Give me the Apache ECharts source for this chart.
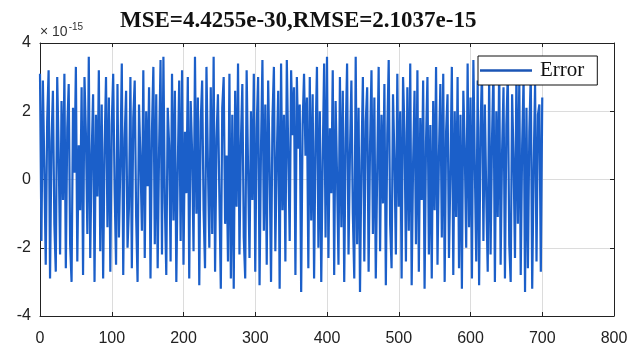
<!DOCTYPE html>
<html>
<head>
<meta charset="utf-8">
<script src="https://cdn.jsdelivr.net/npm/echarts@6/dist/echarts.min.js"></script>
<style>html,body{margin:0;padding:0;background:#fff;}#c{width:643px;height:352px;}</style>
</head>
<body>
<div id="c"></div>
<script>
// Sample positions: one value every 2 samples, starting at sample 0
const xStart = 0;
const xStep = 2;
// Error values (units of 1e-15)
const errorValues = [
  3.1, -1.8, 2.9, 0.4, -2.5, 1.7, 3.2, -2.9, 1.1, 2.6,
  -1.3, -2.7, 3.0, 0.8, -2.2, 2.3, -0.6, 3.1, -2.6, 1.5,
  2.8, -1.9, -3.0, 2.1, 0.2, 3.3, -2.4, 1.0, -0.9, 2.7,
  -2.8, 3.0, 1.3, -1.6, 3.6, -2.3, 0.7, 2.5, -3.0, 1.9,
  -0.5, 3.2, -2.1, 2.2, -2.9, 0.9, 3.0, -1.4, 2.4, -2.7,
  1.6, 3.1, -0.3, -2.5, 2.8, -1.7, 0.5, 3.4, -2.8, 1.2,
  2.6, -2.0, -0.8, 3.0, -2.6, 1.8, 2.9, -1.1, -3.0, 2.2,
  0.6, -1.5, 3.2, -2.3, 2.0, -0.2, 2.7, -2.9, 1.4, 3.3,
  -1.9, 2.5, -2.6, 0.9, 3.5, -2.2, 3.6, -0.7, -2.8, 2.1,
  1.0, -2.4, 3.1, -1.2, 2.6, -3.0, 0.3, 2.9, -1.8, 3.2,
  -2.5, 1.4, -0.4, 3.0, -2.9, 2.3, 0.8, -2.1, 3.6, -1.0,
  2.4, -3.1, 1.7, 2.9, -0.9, -2.6, 3.3, 0.5, -2.0, 2.7,
  -1.6, 3.6, -2.7, 1.2, 2.5, -0.5, -3.2, 2.1, 3.0, -1.3,
  0.7, -2.4, 3.1, -2.9, 1.9, -3.2, 2.6, -0.8, 3.4, -2.2,
  1.1, 2.8, -1.7, -2.9, 3.2, 0.3, -2.3, 2.0, -0.6, 3.1,
  -2.7, 1.5, 3.0, -3.1, 0.9, 3.5, -1.5, 2.2, -2.5, 2.9,
  0.4, -3.0, 1.8, 3.3, -2.1, 0.6, 2.6, -3.2, 3.4, -0.9,
  1.9, -2.4, 3.5, 0.8, -1.8, 3.2, 1.3, 2.7, -2.8, 3.0,
  0.9, 2.2, -3.3, 1.6, 3.1, 0.7, 2.4, -2.6, 3.0, -1.2,
  2.5, -2.9, 1.1, 3.3, -2.0, 2.0, -3.0, 0.6, 3.4, -1.7,
  3.6, -2.3, 1.5, -0.4, 3.2, -2.8, 2.3, 0.1, -2.5, 3.0,
  -1.4, 2.6, -3.0, 1.2, 3.4, -2.2, 0.8, 2.9, -1.0, -2.9,
  3.6, -1.9, 2.1, -3.3, 0.5, 3.0, -2.4, 1.7, 2.7, -2.7,
  1.0, 3.2, -1.6, 2.4, -2.9, 0.3, 3.3, -2.1, 1.9, -0.7,
  2.8, -3.1, 1.3, 3.5, -1.3, -2.6, 2.5, 0.6, -2.2, 3.1,
  -0.8, 2.0, -2.9, 3.0, 1.4, -2.4, 2.7, -1.5, 3.4, -3.1,
  0.5, 2.6, -1.9, 3.2, -2.7, 1.8, -0.6, 2.9, -3.2, 1.1,
  3.0, -2.2, 1.6, -2.9, 2.3, -0.9, 3.3, -2.5, 0.7, 2.8,
  -1.7, 3.1, -3.0, 1.4, 2.5, -2.3, 0.2, 3.3, -2.8, 2.0,
  -1.1, 3.0, -2.6, 1.9, -3.2, 2.6, 0.9, -2.0, 3.4, -1.4,
  2.4, -2.9, 3.5, 0.4, -2.4, 2.9, -3.1, 1.5, 3.2, -1.8,
  2.2, -0.5, -2.7, 3.0, -2.2, 1.2, 3.3, -3.0, 2.0, -1.1,
  3.4, -2.5, 0.8, 2.7, -2.9, 1.6, 3.1, -1.9, -3.0, 2.5,
  0.6, -2.3, 3.2, -1.3, 2.9, -2.8, 1.0, 3.0, -3.3, 2.1,
  -2.6, 1.4, 3.1, -3.2, 0.3, 2.8, -2.4, 1.9, 2.2, -2.7,
  2.4
];
const xTicks = [0, 100, 200, 300, 400, 500, 600, 700, 800];
const yTicks = [-4, -2, 0, 2, 4];
const titleText = 'MSE=4.4255e-30,RMSE=2.1037e-15';
const legendName = 'Error';

const seriesData = errorValues.map((v, i) => [xStart + i * xStep, v]);

const chart = echarts.init(document.getElementById('c'), null, {renderer: 'canvas'});
const labelFont = {fontFamily: 'Liberation Sans, Arial, sans-serif', fontSize: 16, color: '#222'};
chart.setOption({
  animation: false,
  backgroundColor: '#fff',
  grid: {left: 40, right: 29, top: 43, bottom: 36, containLabel: false},
  title: {
    text: titleText, left: 115, top: 5,
    textStyle: {fontFamily: 'Liberation Serif, Times New Roman, serif', fontWeight: 'bold', fontSize: 23, color: '#111'}
  },
  legend: {
    data: [legendName], left: 478, top: 56, orient: 'horizontal',
    icon: 'rect', itemWidth: 52, itemHeight: 2.5, itemGap: 4,
    padding: [4, 13, 4, 2],
    backgroundColor: '#fff', borderColor: '#111', borderWidth: 1, borderRadius: 0,
    textStyle: {fontFamily: 'Liberation Serif, Times New Roman, serif', fontSize: 21, color: '#111', lineHeight: 20, padding: [0, 0, 0, 3]},
    itemStyle: {color: '#1a55b5'}
  },
  xAxis: [{
    type: 'value', min: 0, max: 800, interval: 100,
    axisLine: {show: true, onZero: false, lineStyle: {color: '#222', width: 1}},
    axisTick: {show: true, inside: true, length: 4, lineStyle: {color: '#222'}},
    axisLabel: Object.assign({margin: 15, formatter: v => xTicks.includes(v) ? String(v) : ''}, labelFont),
    splitLine: {show: true, lineStyle: {color: '#dcdcdc', width: 1}}
  }, {
    type: 'value', position: 'top', min: 0, max: 800, interval: 100,
    axisLine: {show: true, onZero: false, lineStyle: {color: '#222', width: 1}},
    axisTick: {show: true, inside: true, length: 4, lineStyle: {color: '#222'}},
    axisLabel: {show: false}, splitLine: {show: false}
  }],
  yAxis: [{
    type: 'value', min: -4, max: 4, interval: 2,
    axisLine: {show: true, onZero: false, lineStyle: {color: '#222', width: 1}},
    axisTick: {show: true, inside: true, length: 4, lineStyle: {color: '#222'}},
    axisLabel: Object.assign({margin: 9, formatter: v => yTicks.includes(v) ? String(v) : ''}, labelFont),
    splitLine: {show: true, lineStyle: {color: '#dcdcdc', width: 1}}
  }, {
    type: 'value', position: 'right', min: -4, max: 4, interval: 2,
    axisLine: {show: true, onZero: false, lineStyle: {color: '#222', width: 1}},
    axisTick: {show: true, inside: true, length: 4, lineStyle: {color: '#222'}},
    axisLabel: {show: false}, splitLine: {show: false}
  }],
  graphic: [{
    type: 'text', left: 40, top: 22,
    style: {
      text: '{a|× 10}{b|-15}',
      rich: {
        a: {fontFamily: 'Liberation Sans, Arial, sans-serif', fontSize: 14, fill: '#333', verticalAlign: 'bottom'},
        b: {fontFamily: 'Liberation Sans, Arial, sans-serif', fontSize: 10, fill: '#333', verticalAlign: 'top', padding: [0, 0, 7, 1]}
      }
    }
  }],
  series: [{
    name: legendName, type: 'line', data: seriesData,
    showSymbol: false, symbol: 'none', smooth: false,
    lineStyle: {color: '#1b5fc9', width: 2.2},
    itemStyle: {color: '#1a55b5'},
    z: 2
  }]
});
</script>
</body>
</html>
